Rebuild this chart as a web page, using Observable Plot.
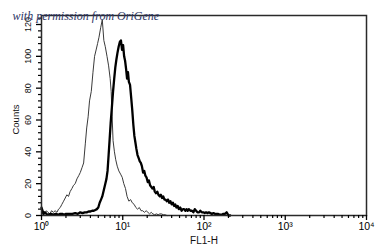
<!DOCTYPE html>
<html>
<head>
<meta charset="utf-8">
<script src="https://cdn.jsdelivr.net/npm/d3@7"></script>
<script src="https://cdn.jsdelivr.net/npm/@observablehq/plot@0.6"></script>
<style>
  html, body { margin: 0; padding: 0; background: #fff; }
  svg { display: block; }
</style>
</head>
<body>
<div id="chart"></div>
<script>
// Control (thin line): FL1-H value and counts
const controlX = [1.0,1.05,1.1,1.15,1.2,1.27,1.33,1.4,1.47,1.55,1.62,1.7,1.78,1.87,1.96,2.05,2.15,2.25,2.37,2.48,2.6,2.73,2.87,3.0,3.15,3.3,3.46,3.6,3.75,3.9,4.1,4.3,4.5,4.7,4.9,5.1,5.35,5.6,5.85,6.1,6.4,6.7,7.0,7.2,7.4,7.6,7.9,8.2,8.55,8.95,9.4,9.85,10.3,10.8,11.3,11.9,12.5,13.1,13.8,14.5,15.2,16,16.8,17.6,18.5,19.4,20.4,21.4,22.4,23.5,24.7,26,27.3,28.6,30,31.5,33,35];
const controlY = [0,2,1,3,2,1,3,2,3,2,4,5,7,9,11,13,12,15,17,19,20,23,25,27,30,33,45,55,62,72,78,90,100,104,108,112,118,123,110,106,100,94,86,78,62,47,40,35,31,28,26,24,20,17,12,9,10,8,7,5,4,5,3,3,2,3,2,1,2,1,0.5,1,0.5,1,1,0.5,0.5,0];

// Stained sample (thick line)
const sampleX = [1.0,1.03,1.06,1.1,1.15,1.2,1.3,1.4,1.5,1.6,1.7,1.8,1.9,2.0,2.2,2.4,2.6,2.8,3.0,3.2,3.4,3.6,3.8,4.0,4.2,4.4,4.6,4.8,5.0,5.2,5.4,5.6,5.85,6.1,6.3,6.5,6.7,6.9,7.1,7.35,7.6,7.85,8.1,8.35,8.6,8.9,9.2,9.5,9.8,10.1,10.4,10.7,11.0,11.3,11.6,11.9,12.3,12.7,13.1,13.5,13.9,14.3,14.7,15.2,15.7,16.2,16.7,17.2,17.8,18.4,19,19.6,20.3,21,21.7,22.4,23.2,24,24.8,25.7,26.6,27.5,28.5,29.5,30.5,31.5,32.6,33.7,34.9,36.1,37.3,38.6,40,41.4,42.8,44.3,45.8,47.4,49,51,53,55,57,59,61,63,65,68,71,74,77,80,83,87,90,94,98,102,106,110,115,120,125,131,137,143,150,157,165,173,181,190,195,200,210];
const sampleY = [5,3,1,2,1,0.5,1,0.5,1,0.5,1,1,0.5,1,1,1,1.5,1,2,1.5,2,2,2.5,2.5,3,3,3.5,4,5,8,10,12,16,20,23,28,38,48,58,68,78,86,93,98,102,106,109,110,104,107,100,97,92,86,90,84,82,74,66,57,50,46,42,38,36,34,33,31,27,28,25,24,21,22,19,18,17,18,15,14,15,13,12,13,11,12,10,10,9,10,8,9,7,8,6,7,5,6,4,5,3,4,4,3,4,3,4,3,3,2,4,3,2,2,3,2,2,1.5,2,1.5,2,1.5,1,1.5,1,1,1,0.5,0.5,1,1,2,1,0,0];

const yTicks = [0, 20, 40, 60, 80, 100, 120];
const yMinor = [4,8,12,16,24,28,32,36,44,48,52,56,64,68,72,76,84,88,92,96,104,108,112,116,124];
const xTicks = [1, 10, 100, 1000, 10000];
const xMinor = [1, 10, 100, 1000].flatMap(b => [2,3,4,5,6,7,8,9].map(m => m * b));
const supDigits = ["⁰","¹","²","³","⁴"];
const xTitle = "FL1-H";
const yTitle = "Counts";
const credit = "with permission from OriGene";

const control = controlX.map((x, i) => ({x, y: controlY[i]}));
const sample = sampleX.map((x, i) => ({x, y: sampleY[i]}));

const chart = Plot.plot({
  width: 382,
  height: 251,
  marginLeft: 41,
  marginRight: 16,
  marginTop: 15,
  marginBottom: 36,
  style: {fontFamily: "'Liberation Sans', Arial, sans-serif", background: "#fff", color: "#000"},
  x: {type: "log", domain: [1, 10000], axis: null, label: null},
  y: {domain: [0, 125.65], axis: null, label: null},
  marks: [
    Plot.line(control, {x: "x", y: "y", stroke: "#3a3a3a", strokeWidth: 1}),
    Plot.line(sample, {x: "x", y: "y", stroke: "#000", strokeWidth: 2.3}),
    Plot.frame({stroke: "#2a2a2a", strokeWidth: 1.5}),
    Plot.axisY(yTicks, {label: null, tickSize: 5, tickFormat: () => "", stroke: "#000", strokeWidth: 1.3}),
    Plot.axisY(yMinor, {label: null, tickSize: 3, tickFormat: () => "", stroke: "#000", strokeWidth: 1.2}),
    Plot.axisX(xTicks, {label: null, tickSize: 5, tickPadding: 2, fontSize: 10.5, stroke: "#000", strokeWidth: 1.3,
      tickFormat: d => "10" + supDigits[Math.round(Math.log10(d))]}),
    Plot.axisX(xMinor, {label: null, tickSize: 3, tickFormat: () => "", stroke: "#000", strokeWidth: 1.2}),
    Plot.text(yTicks, {y: d => d, frameAnchor: "left", dx: -13, rotate: -90, text: d => String(d),
      fontSize: 9, textAnchor: "middle", lineAnchor: "middle", fill: "#111"}),
    Plot.text([yTitle], {frameAnchor: "left", dx: -26, dy: 4, rotate: -90, text: d => d,
      fontSize: 9.5, textAnchor: "middle", lineAnchor: "middle", fill: "#111"}),
    Plot.text([xTitle], {frameAnchor: "bottom", dy: 25, text: d => d,
      fontSize: 10, textAnchor: "middle", lineAnchor: "middle", fill: "#111"}),
    Plot.text([credit], {frameAnchor: "top-left", dx: -29, dy: 1, text: d => d,
      fontSize: 12, fontStyle: "italic", fontFamily: "'Liberation Serif', serif",
      textAnchor: "start", lineAnchor: "middle", fill: "#2b3566"})
  ]
});
document.getElementById("chart").appendChild(chart);
</script>
</body>
</html>
